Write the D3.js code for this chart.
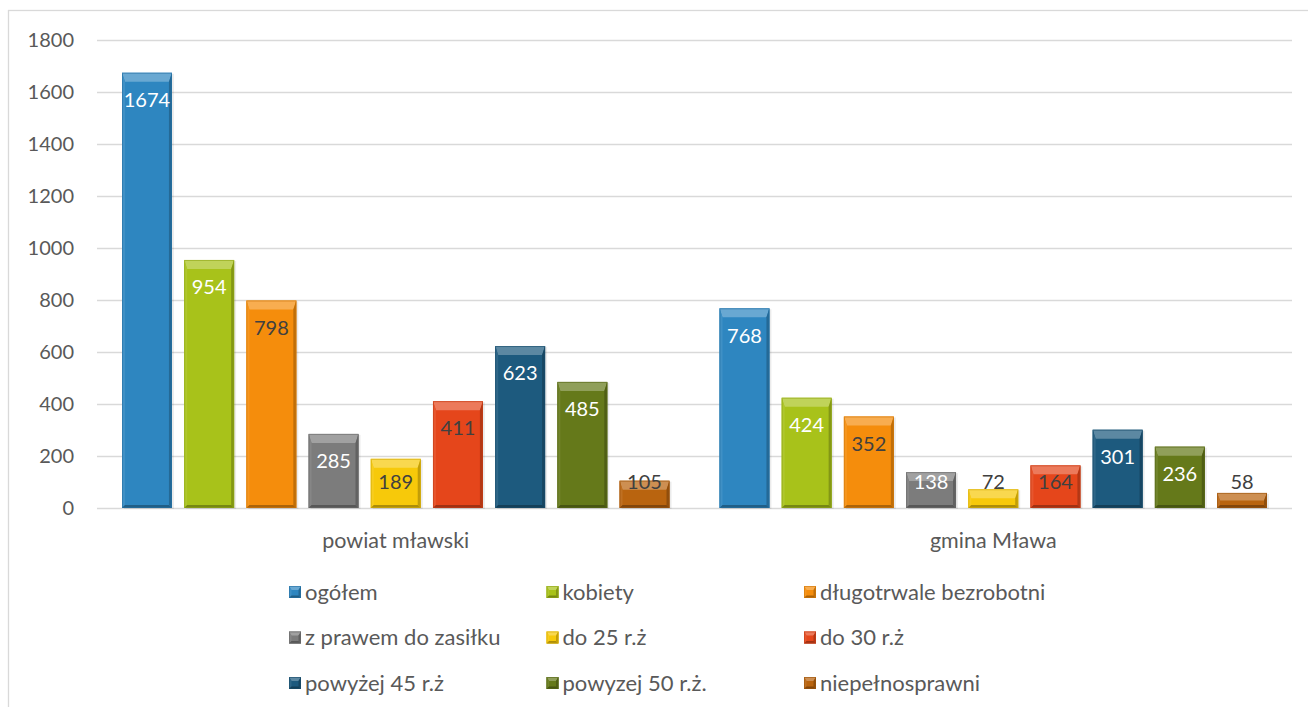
<!DOCTYPE html>
<html><head><meta charset="utf-8">
<script src="https://cdn.jsdelivr.net/npm/d3@7"></script>
<style>
body{margin:0;background:#fff;}
svg{display:block;font-family:Lato,"Open Sans",sans-serif;}
</style></head>
<body><svg id="c" width="1308" height="707"></svg>
<script>
const groups = ["powiat mławski", "gmina Mława"];
const seriesNames = ["ogółem","kobiety","długotrwale bezrobotni","z prawem do zasiłku","do 25 r.ż","do 30 r.ż","powyżej 45 r.ż","powyzej 50 r.ż.","niepełnosprawni"];
const powiatValues = [1674, 954, 798, 285, 189, 411, 623, 485, 105];
const gminaValues  = [768, 424, 352, 138, 72, 164, 301, 236, 58];
const seriesColors = ["#2E86C0","#A8C21A","#F58D0C","#7C7C7C","#F7C90A","#E5461B","#1D5A7E","#65791A","#B9640F"];
const labelColors  = ["#fff","#fff","#404040","#fff","#404040","#404040","#fff","#fff","#404040"];
const yTicks = [0,200,400,600,800,1000,1200,1400,1600,1800];

const svg = d3.select("#c");
const textColor = "#595959";

svg.append("rect").attr("x",8.5).attr("y",10.5).attr("width",1320).attr("height",720)
  .attr("fill","none").attr("stroke","#D9D9D9").attr("stroke-width",1.3);

const y = d3.scaleLinear().domain([0,1800]).range([508,40]);
const x0 = d3.scaleBand().domain(groups).range([97,1292]).padding(0);
const x1 = d3.scaleBand().domain(seriesNames).range([25, x0.bandwidth()-25]).paddingInner(0.197).paddingOuter(0);

svg.append("g").selectAll("line").data(yTicks).join("line")
  .attr("x1",97).attr("x2",1292)
  .attr("y1",d=>Math.round(y(d))+0.5).attr("y2",d=>Math.round(y(d))+0.5)
  .attr("stroke","#D9D9D9").attr("stroke-width",1.3);

svg.append("g").selectAll("text").data(yTicks).join("text")
  .attr("x",74).attr("y",d=>y(d)).attr("dy","0.36em")
  .attr("text-anchor","end").attr("fill",textColor).style("font-size","20px")
  .text(d=>d);

svg.append("g").selectAll("text").data(groups).join("text")
  .attr("x",d=>x0(d)+x0.bandwidth()/2).attr("y",540).attr("dy","0.36em")
  .attr("text-anchor","middle").attr("fill",textColor).style("font-size","21.5px")
  .text(d=>d);

function shade(c,k){ return k>0 ? d3.interpolateRgb(c,"#fff")(k) : d3.interpolateRgb(c,"#000")(-k); }

function bevel(g, x, yt, w, h, color, bt, bs){
  bt = Math.min(bt, h/2); bs = Math.min(bs, w/2, h/2);
  const xr = x+w, yb = yt+h;
  g.append("rect").attr("x",x).attr("y",yt).attr("width",w).attr("height",h).attr("fill",color);
  const inner = [[x+bs,yt+bt],[xr-bs,yt+bt],[xr-bs,yb-bs],[x+bs,yb-bs]];
  const P = a=>a.map(p=>p.join(",")).join(" ");
  g.append("polygon").attr("points",P([[x,yt],[xr,yt],inner[1],inner[0]])).attr("fill",shade(color,0.28));
  g.append("polygon").attr("points",P([[x,yt],inner[0],inner[3],[x,yb]])).attr("fill",shade(color,0.08));
  g.append("polygon").attr("points",P([[xr,yt],[xr,yb],inner[2],inner[1]])).attr("fill",shade(color,-0.22));
  g.append("polygon").attr("points",P([[x,yb],inner[3],inner[2],[xr,yb]])).attr("fill",shade(color,-0.3));
  g.append("rect").attr("x",x+0.5).attr("y",yt+0.5).attr("width",w-1).attr("height",h-1)
    .attr("fill","none").attr("stroke",shade(color,-0.15)).attr("stroke-width",1).attr("opacity",0.6);
}

const dataByGroup = [powiatValues, gminaValues];
const barsG = svg.append("g");
groups.forEach((gname,gi)=>{
  dataByGroup[gi].forEach((v,si)=>{
    const bx = x0(gname)+x1(seriesNames[si]);
    const bw = x1.bandwidth();
    const top = y(v), h = y(0)-y(v);
    barsG.append("rect").attr("x",bx+2).attr("y",top+1).attr("width",bw).attr("height",h)
      .attr("fill","#000").attr("opacity",0.08);
    bevel(barsG.append("g"), bx, top, bw, h, seriesColors[si], 9, 3);
  });
});

const labG = svg.append("g");
groups.forEach((gname,gi)=>{
  dataByGroup[gi].forEach((v,si)=>{
    const cx = x0(gname)+x1(seriesNames[si])+x1.bandwidth()/2;
    const cy = Math.min(y(v)+27, y(0)-26);
    labG.append("text").attr("x",cx).attr("y",cy).attr("dy","0.36em")
      .attr("text-anchor","middle").attr("fill",labelColors[si]).style("font-size","20px")
      .text(v);
  });
});

const legCol = d3.scalePoint().domain([0,1,2]).range([289,804]);
const legRow = d3.scalePoint().domain([0,1,2]).range([592,683]);
const legG = svg.append("g");
seriesNames.forEach((n,i)=>{
  const c = i%3, r = Math.floor(i/3);
  const lx = legCol(c), ly = legRow(r);
  bevel(legG.append("g"), lx, ly-6, 12, 12, seriesColors[i], 4, 2.5);
  legG.append("text").attr("x",lx+16).attr("y",ly).attr("dy","0.36em")
    .attr("fill",textColor).style("font-size","22px").text(n);
});
</script></body></html>
